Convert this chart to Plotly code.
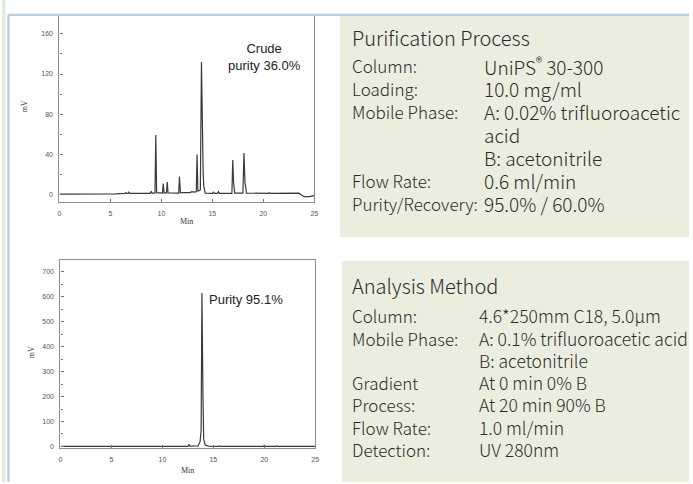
import plotly.graph_objects as go

# ---------------- data ----------------
# Crude sample chromatogram (time in min, signal in mV) - vertices of the trace
crude_time = [0, 3.1, 3.2, 3.3, 5.5, 6.4, 6.5, 6.6, 6.75, 6.8, 6.88, 8.9, 9.0, 9.1,
              9.37, 9.45, 9.53, 10.1, 10.18, 10.26, 10.5, 10.57, 10.65, 11.7, 11.77,
              11.86, 12.8, 13.0, 13.2, 13.42, 13.5, 13.58, 13.82, 13.93, 14.03, 14.1,
              14.16, 14.3, 15.0, 15.1, 15.2, 15.5, 15.6, 15.7, 16.92, 17.0, 17.08,
              17.2, 18.0, 18.1, 18.2, 18.35, 20.5, 20.6, 20.7, 21.4, 21.5, 21.6, 23.4,
              23.5, 23.7, 24.0, 24.5, 25.0]
crude_mV = [0, 0, 0.6, 0, 0.3, 0.8, 1.5, 0.8, 1.0, 2.0, 0.8, 0.8, 3.0, 1.0,
            1.0, 59, 1.5, 1.0, 10.5, 1.2, 1.2, 12, 1.2, 1.0, 17.5,
            1.5, 1.5, 2.5, 2.0, 2.5, 39.5, 3.0, 4.0, 132, 22, 20,
            8, 1.0, 0.8, 2.0, 0.8, 0.8, 2.5, 0.8, 0.8, 34, 12,
            1.0, 1.0, 41, 12, 1.0, 0.8, 1.5, 0.8, 0.8, 1.2, 0.5, 0.5,
            1.0, -0.5, -2.5, -2.5, -1.5]

# Purified sample chromatogram
pure_time = [0, 2.4, 2.5, 2.6, 3.4, 3.5, 3.6, 6.5, 6.6, 6.7, 12.5, 12.6, 12.7, 13.5,
             13.7, 13.8, 13.88, 13.98, 14.05, 14.2, 14.5, 15.5, 15.6, 15.7, 18.4,
             18.5, 18.6, 19.9, 20.0, 20.1, 21.1, 21.2, 21.3, 25.0]
pure_mV = [0, 0, 2, 0, 0, 3, 0, 0, 3, 0, 0, 8, 1, 2,
           20, 65, 615, 205, 30, 5, 1, 0, 3, 0, 0,
           3, 0, 0, 4, 0, 0, 3, 0, 0]

x_ticks = [0, 5, 10, 15, 20, 25]
crude_y_ticks = [0, 40, 80, 120, 160]
pure_y_ticks = [0, 100, 200, 300, 400, 500, 600, 700]

crude_label = "Crude<br>purity 36.0%"
pure_label = "Purity 95.1%"

purif_title = "Purification Process"
purif_keys = ["Column:", "Loading:", "Mobile Phase:", "", "", "Flow Rate:", "Purity/Recovery:"]
purif_vals = ["UniPS<sup>®</sup> 30-300", "10.0 mg/ml", "A: 0.02% trifluoroacetic", "acid",
              "B: acetonitrile", "0.6 ml/min", "95.0% / 60.0%"]

anal_title = "Analysis Method"
anal_keys = ["Column:", "Mobile Phase:", "", "Gradient", "Process:", "Flow Rate:", "Detection:"]
anal_vals = ["4.6*250mm C18, 5.0μm", "A: 0.1% trifluoroacetic acid", "B: acetonitrile",
             "At 0 min 0% B", "At 20 min 90% B", "1.0 ml/min", "UV 280nm"]

# ---------------- layout helpers ----------------
W, H = 693, 484


def px(x):
    return x / W


def py(y):
    return 1 - y / H


fig = go.Figure()
fig.add_trace(go.Scatter(x=crude_time, y=crude_mV, mode="lines",
                         line=dict(color="#3a3a3a", width=1.2),
                         xaxis="x", yaxis="y", hoverinfo="skip", showlegend=False))
fig.add_trace(go.Scatter(x=pure_time, y=pure_mV, mode="lines",
                         line=dict(color="#3a3a3a", width=1.2),
                         xaxis="x2", yaxis="y2", hoverinfo="skip", showlegend=False))

tickfont = dict(size=7, color="#555555", family="Liberation Sans")
common = dict(showline=True, mirror=True, linecolor="#8f8f8f", linewidth=1.2,
              ticks="inside", ticklen=3, tickcolor="#777777", tickwidth=1,
              tickfont=tickfont, showgrid=False, zeroline=False, fixedrange=True)

fig.update_layout(
    width=W, height=H, margin=dict(l=0, r=0, t=0, b=0),
    paper_bgcolor="white", plot_bgcolor="white", showlegend=False,
    xaxis=dict(domain=[px(58), px(315)], range=[0, 25], tickvals=x_ticks,
               anchor="y", ticklabelstandoff=4, **common),
    yaxis=dict(domain=[py(203), py(15)], range=[-8, 179], tickvals=crude_y_ticks,
               anchor="x", ticklabelstandoff=4,
               minor=dict(ticks="inside", ticklen=2, tick0=0, dtick=20, tickcolor="#777777"),
               **common),
    xaxis2=dict(domain=[px(59), px(316)], range=[0, 25], tickvals=x_ticks,
                anchor="y2", ticklabelstandoff=4, **common),
    yaxis2=dict(domain=[py(450), py(261)], range=[-7, 748], tickvals=pure_y_ticks,
                anchor="x2", ticklabelstandoff=4,
                minor=dict(ticks="inside", ticklen=2, tick0=0, dtick=50, tickcolor="#777777"),
                **common),
)

shapes = [
    # green info panels
    dict(type="rect", xref="paper", yref="paper", x0=px(341), x1=1, y0=py(238), y1=py(15),
         fillcolor="#ebeedf", line=dict(width=0), layer="below"),
    dict(type="rect", xref="paper", yref="paper", x0=px(343), x1=1, y0=0, y1=py(262),
         fillcolor="#ebeedf", line=dict(width=0), layer="below"),
    # left light strip
    dict(type="rect", xref="paper", yref="paper", x0=0, x1=px(3.5), y0=0, y1=1,
         fillcolor="#e4ecde", line=dict(width=0), layer="below"),
    # light blue frame lines
    dict(type="line", xref="paper", yref="paper", x0=px(6.5), x1=1, y0=py(15), y1=py(15),
         line=dict(color="#b8cce4", width=2.2), layer="above"),
    dict(type="line", xref="paper", yref="paper", x0=px(6.5), x1=px(6.5), y0=0, y1=py(15),
         line=dict(color="#b8cce4", width=2.2), layer="above"),
]


def note(text, x, y, font, xanchor="left", **kw):
    return dict(text=text, x=px(x), y=py(y), xref="paper", yref="paper", showarrow=False,
                xanchor=xanchor, yanchor="middle", font=font, **kw)


ann = []
serif = dict(family="Liberation Serif", size=8, color="#333333")
# axis titles
ann.append(note("mV", 23, 107, serif, xanchor="center", textangle=-90))
ann.append(note("Min", 186.5, 222, serif, xanchor="center"))
ann.append(note("mV", 30, 354, serif, xanchor="center", textangle=-90))
ann.append(note("Min", 187.5, 472, serif, xanchor="center"))
# chart labels
lab_font = dict(family="Liberation Sans", size=13, color="#222222")
ann.append(note(crude_label, 265, 57, lab_font, xanchor="center", align="center"))
ann.append(note(pure_label, 207, 301, lab_font))

fam = "Noto Sans CJK SC"
key_font = dict(family=fam, size=17, color="#2b2b2b", weight=300)
val_font_top = dict(family=fam, size=19, color="#2b2b2b", weight=300)
val_font_bot = dict(family=fam, size=17.5, color="#2b2b2b", weight=300)
ttl_font = dict(family=fam, size=20, color="#2b2b2b", weight=300)

# purification panel
ann.append(note(purif_title, 351, 38, ttl_font))
purif_rows = [66, 89, 112, 135, 158, 181, 204]
for k, v, r in zip(purif_keys, purif_vals, purif_rows):
    if k:
        ann.append(note(k, 351, r, key_font))
    ann.append(note(v, 484, r, val_font_top))

# analysis panel
ann.append(note(anal_title, 351, 287, ttl_font))
anal_rows = [317, 340, 362, 384, 406, 429, 451]
for k, v, r in zip(anal_keys, anal_vals, anal_rows):
    if k:
        ann.append(note(k, 351, r, key_font))
    ann.append(note(v, 479, r, val_font_bot))

fig.update_layout(shapes=shapes, annotations=ann)
fig.write_html("out.html", config={"displayModeBar": False},
               post_script="document.body.style.margin='0px';")
